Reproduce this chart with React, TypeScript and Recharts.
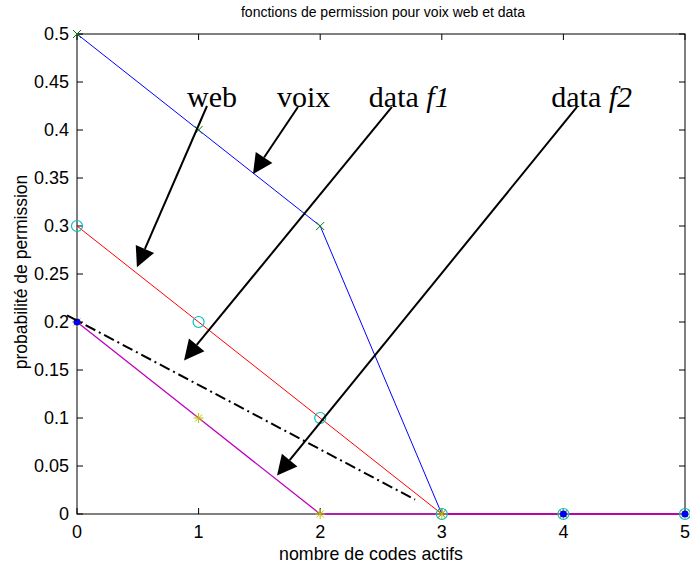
import { LineChart, Line, XAxis, YAxis } from 'recharts'

const X_VALUES = [0, 1, 2, 3, 4, 5]
const VOIX = [0.5, 0.4, 0.3, 0, 0, 0]
const WEB = [0.3, 0.2, 0.1, 0, 0, 0]
const DATA_F2 = [0.2, 0.1, 0, 0, 0, 0]
const DATA_F1_POINTS = [0.2, null, null, null, 0, 0]
const X_TICKS = [0, 1, 2, 3, 4, 5]
const Y_TICKS = [0, 0.05, 0.1, 0.15, 0.2, 0.25, 0.3, 0.35, 0.4, 0.45, 0.5]

// annotations, in data units
const LABELS = [
  { text: 'web', sub: '', x: 0.905, y: 0.424 },
  { text: 'voix', sub: '', x: 1.645, y: 0.424 },
  { text: 'data ', sub: 'f1', x: 2.4, y: 0.424 },
  { text: 'data ', sub: 'f2', x: 3.9, y: 0.424 },
]
const ARROWS = [
  { from: [1.069, 0.425], to: [0.493, 0.257] },
  { from: [1.817, 0.424], to: [1.447, 0.354] },
  { from: [2.59, 0.424], to: [0.88, 0.16] },
  { from: [4.112, 0.424], to: [1.645, 0.04] },
]
const DASH_DOT = { from: [-0.082, 0.207], to: [2.78, 0.015] }

const W = 690
const H = 568
const M = { top: 34, right: 5, left: 0, bottom: 0 }
const Y_AXIS_W = 77
const X_AXIS_H = 54
const PL = M.left + Y_AXIS_W
const PT = M.top
const PR = W - M.right
const PB = H - M.bottom - X_AXIS_H
const X_DOM = [0, 5]
const Y_DOM = [0, 0.5]

const sx = (v: number) => PL + ((v - X_DOM[0]) / (X_DOM[1] - X_DOM[0])) * (PR - PL)
const sy = (v: number) => PB - ((v - Y_DOM[0]) / (Y_DOM[1] - Y_DOM[0])) * (PB - PT)

const SANS = '"Liberation Sans", Arial, sans-serif'
const SERIF = '"Liberation Serif", "Times New Roman", serif'

const rows = X_VALUES.map((x, i) => ({
  x,
  voix: VOIX[i],
  web: WEB[i],
  f2: DATA_F2[i],
  f1: DATA_F1_POINTS[i],
}))

const crossDot = (props: any) => {
  const { cx, cy, index } = props
  if (cx == null || cy == null) return <g key={`x${index}`} />
  const s = 4
  return (
    <path
      key={`x${index}`}
      d={`M${cx - s},${cy - s}L${cx + s},${cy + s}M${cx - s},${cy + s}L${cx + s},${cy - s}`}
      stroke="#008000"
      fill="none"
    />
  )
}

const circleDot = (props: any) => {
  const { cx, cy, index } = props
  if (cx == null || cy == null) return <g key={`o${index}`} />
  return <circle key={`o${index}`} cx={cx} cy={cy} r={5.5} stroke="#00bfbf" strokeWidth={1.2} fill="none" />
}

const starDot = (props: any) => {
  const { cx, cy, index } = props
  if (cx == null || cy == null) return <g key={`s${index}`} />
  const s = 5
  const d = 3.6
  return (
    <path
      key={`s${index}`}
      d={`M${cx - s},${cy}L${cx + s},${cy}M${cx},${cy - s}L${cx},${cy + s}M${cx - d},${cy - d}L${cx + d},${cy + d}M${cx - d},${cy + d}L${cx + d},${cy - d}`}
      stroke="#bfbf00"
      fill="none"
    />
  )
}

const blueDot = (props: any) => {
  const { cx, cy, index } = props
  if (cx == null || cy == null) return <g key={`b${index}`} />
  return <circle key={`b${index}`} cx={cx} cy={cy} r={3.5} fill="#0000ff" />
}

function Arrow({ from, to }: { from: number[]; to: number[] }) {
  const x1 = sx(from[0])
  const y1 = sy(from[1])
  const x2 = sx(to[0])
  const y2 = sy(to[1])
  const len = Math.hypot(x2 - x1, y2 - y1)
  const ux = (x2 - x1) / len
  const uy = (y2 - y1) / len
  const hl = 20
  const hw = 10
  const bx = x2 - ux * hl
  const by = y2 - uy * hl
  return (
    <g>
      <line x1={x1} y1={y1} x2={bx} y2={by} stroke="#000" strokeWidth={2} />
      <polygon
        points={`${x2},${y2} ${bx - uy * hw},${by + ux * hw} ${bx + uy * hw},${by - ux * hw}`}
        fill="#000"
      />
    </g>
  )
}

function Frame() {
  const t = 6
  return (
    <svg width={W} height={H} style={{ position: 'absolute', left: 0, top: 0 }}>
      <rect x={PL} y={PT} width={PR - PL} height={PB - PT} fill="none" stroke="#000" />
      {X_TICKS.map((v) => (
        <g key={`xt${v}`}>
          <line x1={sx(v)} x2={sx(v)} y1={PB} y2={PB - t} stroke="#000" />
          <line x1={sx(v)} x2={sx(v)} y1={PT} y2={PT + t} stroke="#000" />
        </g>
      ))}
      {Y_TICKS.map((v) => (
        <g key={`yt${v}`}>
          <line x1={PL} x2={PL + t} y1={sy(v)} y2={sy(v)} stroke="#000" />
          <line x1={PR} x2={PR - t} y1={sy(v)} y2={sy(v)} stroke="#000" />
        </g>
      ))}
      <text x={383} y={17} textAnchor="middle" fontFamily={SANS} fontSize={14} fill="#000">
        fonctions de permission pour voix web et data
      </text>
      <text x={371} y={560} textAnchor="middle" fontFamily={SANS} fontSize={17.8} fill="#000">
        nombre de codes actifs
      </text>
      <text
        x={0}
        y={0}
        transform={`translate(27, ${(PT + PB) / 2 - 2}) rotate(-90)`}
        textAnchor="middle"
        fontFamily={SANS}
        fontSize={17.5}
        fill="#000"
      >
        probabilité de permission
      </text>
    </svg>
  )
}

function Annotations() {
  return (
    <svg width={W} height={H} style={{ position: 'absolute', left: 0, top: 0, pointerEvents: 'none' }}>
      <line
        x1={sx(DASH_DOT.from[0])}
        y1={sy(DASH_DOT.from[1])}
        x2={sx(DASH_DOT.to[0])}
        y2={sy(DASH_DOT.to[1])}
        stroke="#000"
        strokeWidth={2}
        strokeDasharray="11 4 2 4"
      />
      {ARROWS.map((a, i) => (
        <Arrow key={i} from={a.from} to={a.to} />
      ))}
      {LABELS.map((l) => (
        <text key={l.text + l.sub} x={sx(l.x)} y={sy(l.y)} fontFamily={SERIF} fontSize={30} fill="#000">
          {l.text}
          {l.sub && <tspan fontStyle="italic">{l.sub}</tspan>}
        </text>
      ))}
    </svg>
  )
}

export default function App() {
  return (
    <div style={{ position: 'fixed', left: 0, top: 0, width: W, height: H, background: '#fff' }}>
      <Frame />
      <div style={{ position: 'absolute', left: 0, top: 0 }}>
        <LineChart width={W} height={H} data={rows} margin={M}>
          <XAxis
            dataKey="x"
            type="number"
            domain={X_DOM}
            ticks={X_TICKS}
            interval={0}
            height={X_AXIS_H}
            axisLine={false}
            tickLine={false}
            tickMargin={5}
            tick={{ fill: '#000', fontSize: 18, fontFamily: SANS }}
          />
          <YAxis
            type="number"
            domain={Y_DOM}
            ticks={Y_TICKS}
            interval={0}
            width={Y_AXIS_W}
            axisLine={false}
            tickLine={false}
            tickMargin={2}
            tick={{ fill: '#000', fontSize: 18, fontFamily: SANS }}
          />
          <Line dataKey="voix" type="linear" stroke="#0000ff" strokeWidth={1} dot={crossDot} activeDot={false} isAnimationActive={false} />
          <Line dataKey="web" type="linear" stroke="#ff0000" strokeWidth={1} dot={circleDot} activeDot={false} isAnimationActive={false} />
          <Line dataKey="f2" type="linear" stroke="#bf00bf" strokeWidth={1.3} dot={starDot} activeDot={false} isAnimationActive={false} />
          <Line dataKey="f1" type="linear" stroke="none" dot={blueDot} activeDot={false} isAnimationActive={false} />
        </LineChart>
      </div>
      <Annotations />
    </div>
  )
}
